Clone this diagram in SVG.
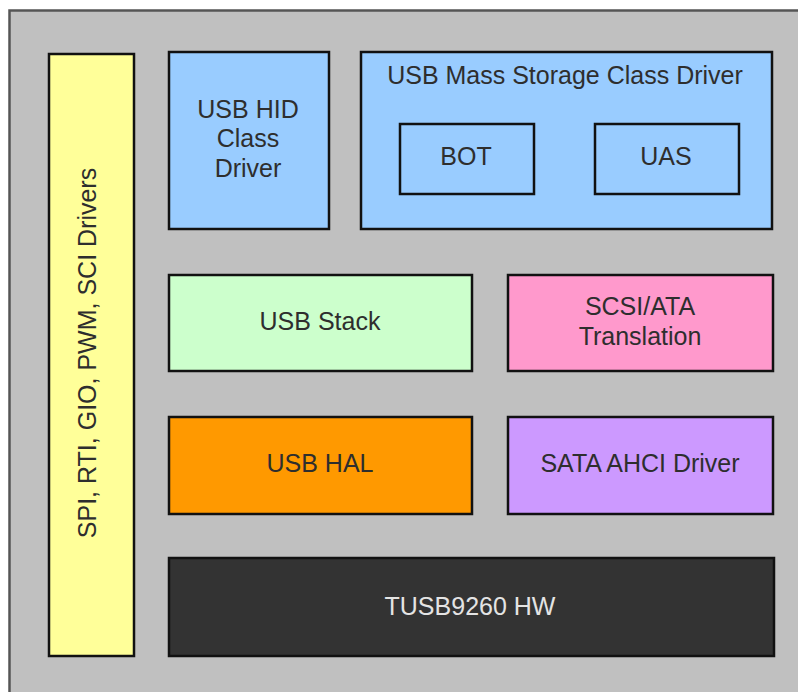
<svg xmlns="http://www.w3.org/2000/svg" width="798" height="692" viewBox="0 0 798 692">
  <style>
    .box { stroke: #111; stroke-width: 2.5; }
    .lbl { font-family: "Liberation Sans", Arial, sans-serif; font-size: 25px; fill: #2e2e2e; text-anchor: middle; }
    .light { fill: #e4e4e4; }
  </style>
  <rect width="798" height="692" fill="#ffffff"/>
  <!-- software stack frame -->
  <rect x="9.5" y="10.5" width="800" height="700" fill="#c0c0c0" stroke="#555" stroke-width="2.5"/>

  <g id="peripheral-drivers">
    <rect class="box" x="49" y="54" width="85" height="602" fill="#ffff99"/>
    <text class="lbl" transform="translate(96,353) rotate(-90)" x="0" y="0">SPI, RTI, GIO, PWM, SCI Drivers</text>
  </g>

  <g id="usb-hid">
    <rect class="box" x="169" y="52" width="160" height="177" fill="#99ccff"/>
    <text class="lbl" x="248" y="118">USB HID</text>
    <text class="lbl" x="248" y="147">Class</text>
    <text class="lbl" x="248" y="177">Driver</text>
  </g>

  <g id="usb-msc">
    <rect class="box" x="361" y="52" width="411" height="177" fill="#99ccff"/>
    <text class="lbl" x="565" y="84">USB Mass Storage Class Driver</text>
  </g>

  <g id="bot">
    <rect class="box" x="400" y="124" width="134" height="70" fill="#99ccff"/>
    <text class="lbl" x="466" y="165">BOT</text>
  </g>

  <g id="uas">
    <rect class="box" x="595" y="124" width="144" height="70" fill="#99ccff"/>
    <text class="lbl" x="666" y="165">UAS</text>
  </g>

  <g id="usb-stack">
    <rect class="box" x="169" y="275" width="303" height="96" fill="#ccffcc"/>
    <text class="lbl" x="320" y="330">USB Stack</text>
  </g>

  <g id="scsi-ata">
    <rect class="box" x="508" y="275" width="265" height="96" fill="#ff99cc"/>
    <text class="lbl" x="640" y="315">SCSI/ATA</text>
    <text class="lbl" x="640" y="345">Translation</text>
  </g>

  <g id="usb-hal">
    <rect class="box" x="169" y="417" width="303" height="97" fill="#ff9900"/>
    <text class="lbl" x="320" y="472">USB HAL</text>
  </g>

  <g id="sata-ahci">
    <rect class="box" x="508" y="417" width="265" height="97" fill="#cc99ff"/>
    <text class="lbl" x="640" y="472">SATA AHCI Driver</text>
  </g>

  <g id="tusb9260-hw">
    <rect class="box" x="169" y="558" width="605" height="98" fill="#333333"/>
    <text class="lbl light" x="470" y="615">TUSB9260 HW</text>
  </g>

  <g id="connectors"/>
</svg>
